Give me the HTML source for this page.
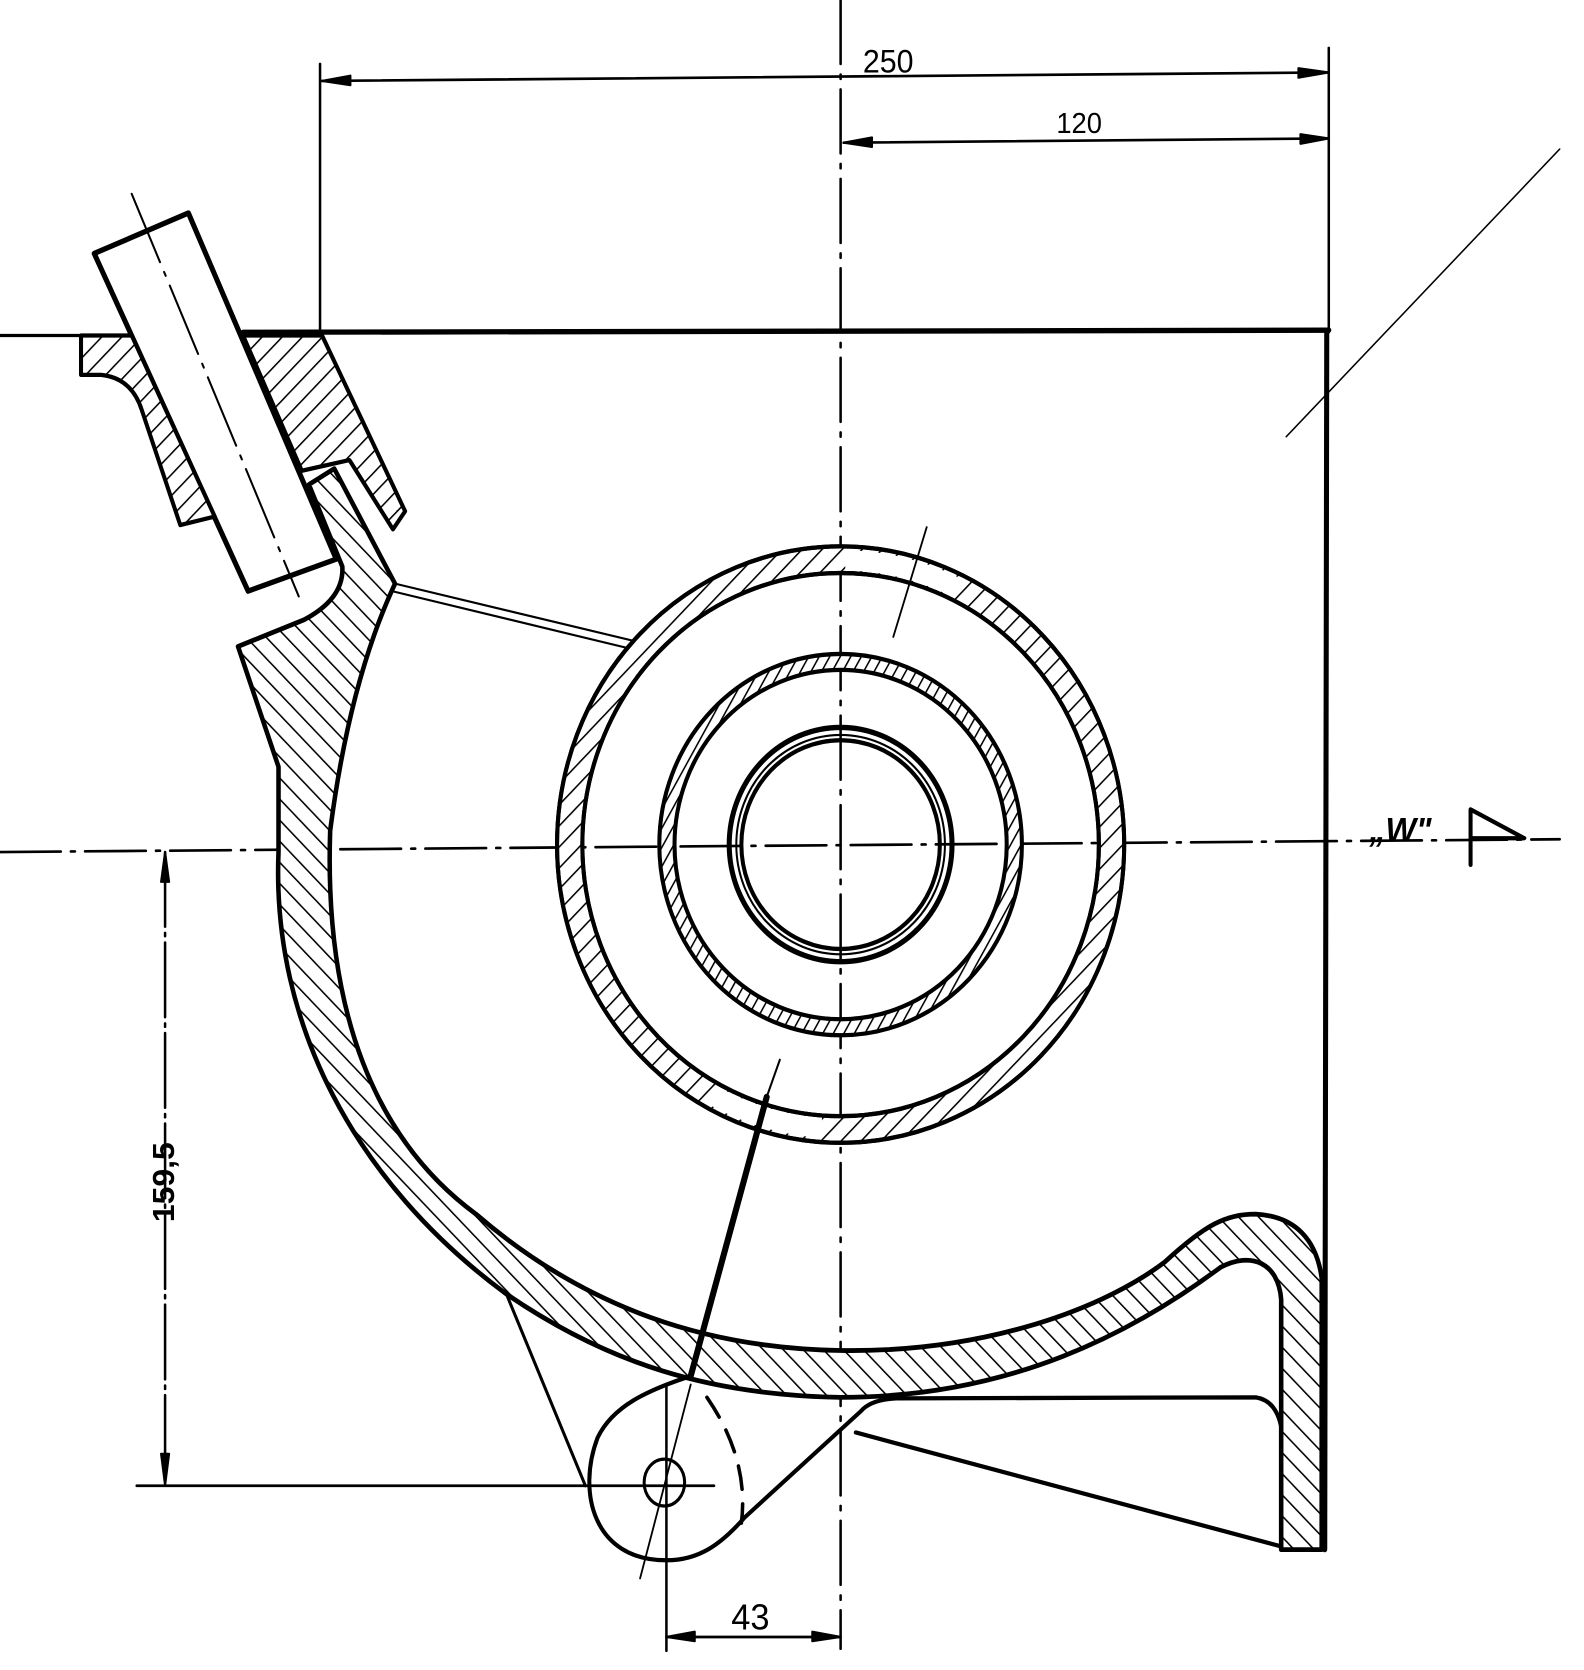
<!DOCTYPE html>
<html><head><meta charset="utf-8"><style>
html,body{margin:0;padding:0;background:#fff;}
svg{display:block;}
text{font-family:"Liberation Sans",sans-serif;fill:#000;}
</style></head><body>
<svg width="1584" height="1670" viewBox="0 0 1564 1568" preserveAspectRatio="none" xmlns="http://www.w3.org/2000/svg">
<defs>
<pattern id="h1" patternUnits="userSpaceOnUse" width="14" height="14" patternTransform="rotate(45)">
<rect width="14" height="14" fill="#fff"/><line x1="0" y1="0" x2="0" y2="14" stroke="#000" stroke-width="3"/></pattern>
<pattern id="h2" patternUnits="userSpaceOnUse" width="14" height="14" patternTransform="rotate(-45)">
<rect width="14" height="14" fill="#fff"/><line x1="0" y1="0" x2="0" y2="14" stroke="#000" stroke-width="3"/></pattern>
<pattern id="h3" patternUnits="userSpaceOnUse" width="9" height="9" patternTransform="rotate(30)">
<rect width="9" height="9" fill="#fff"/><line x1="0" y1="0" x2="0" y2="9" stroke="#000" stroke-width="3"/></pattern>
</defs>
<g fill="none" stroke="#000" stroke-linecap="round" stroke-linejoin="round">
<line x1="830" y1="0" x2="830" y2="1548" stroke-width="2.5" stroke-dasharray="60,10,4,10"/>
<line x1="0" y1="800" x2="1540" y2="788" stroke-width="2.5" stroke-dasharray="60,10,4,10"/>
<line x1="316" y1="60" x2="316" y2="315" stroke-width="2.5"/>
<line x1="1312" y1="45" x2="1312" y2="312" stroke-width="2.5"/>
<line x1="318" y1="76" x2="1312" y2="68" stroke-width="2.5"/>
<line x1="833" y1="134" x2="1312" y2="130" stroke-width="2.5"/>
<path d="M318,76 l28,-5 l0,9 z M1312,68 l-30,-4 l0,9 z M833,134 l28,-5 l0,9 z M1312,130 l-28,-4 l0,9 z" fill="#000" stroke-width="2"/>
<line x1="0" y1="315" x2="80" y2="315" stroke-width="3"/>
<line x1="240" y1="312" x2="1312" y2="310" stroke-width="5"/>
<line x1="1310" y1="310" x2="1308" y2="1455" stroke-width="5"/>
<line x1="1270" y1="410" x2="1540" y2="140" stroke-width="1.5"/>
<polyline points="1452,812 1452,760 1505,787 1452,787" stroke-width="4"/>
<path d="M93,238 L186,200 L332,525 L245,555 Z" stroke-width="5" fill="#fff"/>
<line x1="130" y1="182" x2="295" y2="560" stroke-width="2" stroke-dasharray="70,10,4,10"/>
<path d="M80,315 L130,315 L212,485 L178,493 L140,385 Q130,355 100,352 L80,352 Z" fill="url(#h1)" stroke-width="4"/>
<path d="M240,315 L318,315 L400,480 L388,497 L345,432 L298,442 Z" fill="url(#h1)" stroke-width="4"/>
<path d="M235,607 L300,582 Q340,562 338,532 L305,455 L330,440 L390,548 Q345,640 326,780 C320,950 370,1070 470,1140 C580,1230 700,1266 830,1268 C960,1270 1080,1235 1150,1185 C1190,1150 1210,1140 1240,1140 C1280,1142 1300,1165 1305,1200 L1305,1455 L1265,1455 L1265,1220 C1262,1185 1235,1175 1205,1190 C1120,1250 1000,1312 830,1312 C700,1310 600,1280 500,1215 C350,1110 268,960 275,800 L275,720 Z" fill="url(#h2)" stroke-width="4.5"/>
<line x1="390" y1="548" x2="640" y2="605" stroke-width="2"/>
<line x1="387" y1="555" x2="635" y2="612" stroke-width="2"/>
<path d="M550,793 a280,280 0 1,0 560,0 a280,280 0 1,0 -560,0 Z M575,793 a255,255 0 1,0 510,0 a255,255 0 1,0 -510,0 Z" fill="url(#h1)" fill-rule="evenodd" stroke-width="4"/>
<path d="M834.7,526 A267,267 0 0,1 947,553" stroke="#fff" stroke-width="19" stroke-linecap="butt"/>
<path d="M705,1029 A267,267 0 0,0 811,1059" stroke="#fff" stroke-width="19" stroke-linecap="butt"/>
<circle cx="830" cy="793" r="280" stroke-width="4"/>
<circle cx="830" cy="793" r="255" stroke-width="4"/>
<path d="M651,793 a179,179 0 1,0 358,0 a179,179 0 1,0 -358,0 Z M666,793 a164,164 0 1,0 328,0 a164,164 0 1,0 -328,0 Z" fill="url(#h3)" fill-rule="evenodd" stroke-width="4"/>
<circle cx="830" cy="793" r="110" stroke-width="5"/>
<circle cx="830" cy="793" r="103" stroke-width="2"/>
<circle cx="830" cy="793" r="98" stroke-width="4"/>
<line x1="882" y1="598" x2="915" y2="495" stroke-width="1.8"/>
<line x1="682" y1="1292" x2="757" y2="1030" stroke-width="6"/>
<line x1="757" y1="1030" x2="770" y2="995" stroke-width="2"/>
<path d="M682,1292 C640,1305 605,1320 590,1350 C570,1400 585,1465 658,1465 C690,1465 712,1450 735,1425 L850,1325 Q860,1314 885,1313 L1240,1312 Q1260,1315 1265,1340" stroke-width="4"/>
<line x1="845" y1="1345" x2="1265" y2="1452" stroke-width="4"/>
<line x1="500" y1="1215" x2="578" y2="1395" stroke-width="3"/>
<path d="M698,1312 Q740,1370 732,1430" stroke-width="3.5" stroke-dasharray="22,14"/>
<ellipse cx="656" cy="1392" rx="20" ry="22" stroke-width="3"/>
<line x1="632" y1="1482" x2="682" y2="1300" stroke-width="1.8"/>
<line x1="135" y1="1395" x2="705" y2="1395" stroke-width="2.5"/>
<line x1="658" y1="1300" x2="658" y2="1550" stroke-width="2.5"/>
<line x1="163" y1="800" x2="163" y2="1395" stroke-width="2.5" stroke-dasharray="70,6,3,6"/>
<path d="M163,800 l-4,28 l8,0 z M163,1395 l-4,-30 l8,0 z" fill="#000" stroke-width="2"/>
<line x1="658" y1="1537" x2="830" y2="1537" stroke-width="2.5"/>
<path d="M658,1537 l28,-5 l0,9 z M830,1537 l-28,-5 l0,9 z" fill="#000" stroke-width="2"/>
</g>
<text x="852" y="68" font-size="30">250</text>
<text x="1043" y="125" font-size="27">120</text>
<text x="1352" y="790" font-size="32" font-weight="bold" font-style="italic">„W"</text>
<text x="722" y="1530" font-size="34">43</text>
<text transform="translate(172,1110) rotate(-90)" font-size="30" text-anchor="middle" font-weight="bold">159,5</text>
</svg>
</body></html>
